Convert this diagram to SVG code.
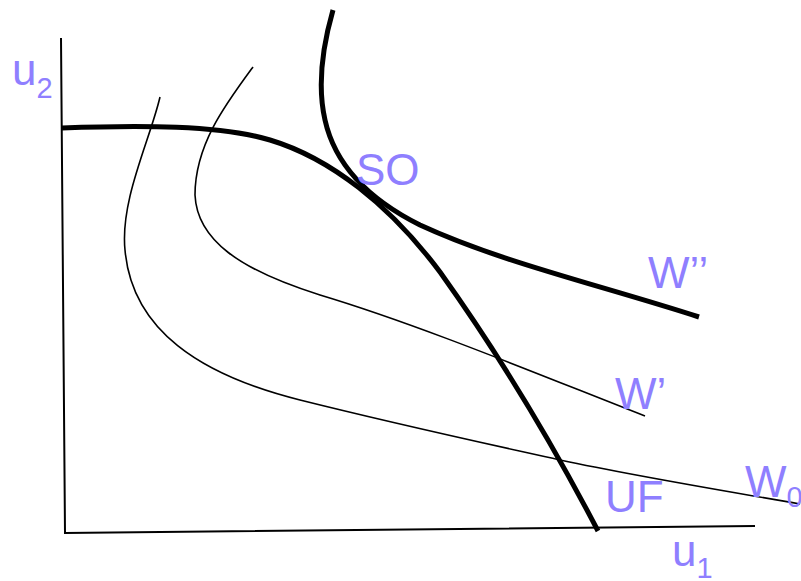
<svg xmlns="http://www.w3.org/2000/svg" width="801" height="581" viewBox="0 0 801 581">
<style>
.lbl{font-family:"Liberation Sans",Arial,sans-serif;fill:#8F7FFF;font-size:44px}
.sub{font-size:29px}
.thin{fill:none;stroke:#000;stroke-width:1.6}
.thick{fill:none;stroke:#000;stroke-width:5;stroke-linecap:butt}
.axis{fill:none;stroke:#000;stroke-width:2}
</style>
<rect width="801" height="581" fill="#fff"/>
<g id="axes">
<path class="axis" d="M61,38 L65,533 L755,526"/>
</g>
<g id="connectors">
<path id="W0" class="thin" d="M160,97 C150,140 120,200 125,250 C132,330 200,375 300,400 C400,425 470,440 560,460 C640,477 720,490 800,504"/>
<path id="W1" class="thin" d="M253,67 C225,105 195,145 195,195 C197,240 240,270 320,295 C420,325 540,375 645,416"/>
<path id="W2" class="thick" d="M333,10 C323,45 317,85 325,120 C335,165 370,200 420,225 C500,262 600,285 699,317"/>
<path id="UF" class="thick" d="M62,128 C140,125 220,125 270,140 C330,158 390,205 440,272 C490,342 548,435 598,531"/>
</g>
<g id="labels">
<text class="lbl" x="12" y="85">u<tspan class="sub" dy="13">2</tspan></text>
<text class="lbl" x="356" y="185">SO</text>
<text class="lbl" x="648" y="288">W’’</text>
<text class="lbl" x="615" y="409">W’</text>
<text class="lbl" x="605" y="512">UF</text>
<text class="lbl" x="745" y="497">W<tspan class="sub" dy="10">0</tspan></text>
<text class="lbl" x="672" y="566">u<tspan class="sub" dy="12">1</tspan></text>
</g>
</svg>
